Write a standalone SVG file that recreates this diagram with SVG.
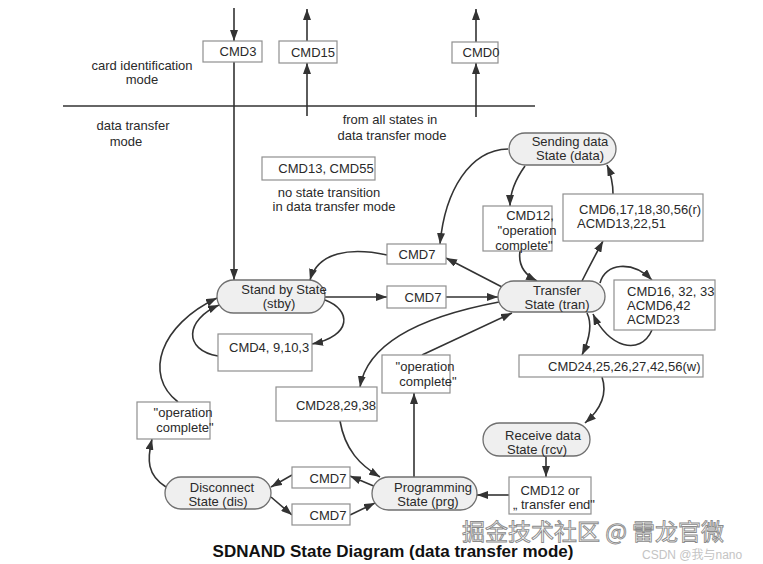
<svg xmlns="http://www.w3.org/2000/svg" width="763" height="564" viewBox="0 0 763 564">
<style>
text{font-family:"Liberation Sans",Arial,sans-serif;font-size:13px;fill:#2a2a2a}
.c{text-anchor:middle}
.st{fill:#efefef;stroke:#6f6f6f;stroke-width:1.3}
.bx{fill:#fff;stroke:#8f8f8f;stroke-width:1.2}
.ln{fill:none;stroke:#333;stroke-width:1.6}
.t{font-weight:bold;font-size:17px;fill:#111}
.wm{font-family:"Noto Sans CJK SC","Liberation Sans",sans-serif;font-size:24px;fill:#fff;stroke:#8a8a8a;stroke-width:0.9}
.wm2{font-family:"Liberation Sans","Noto Sans CJK SC",sans-serif;font-size:12px;fill:#c4c4c4}
</style>
<defs>
<marker id="a" viewBox="0 0 11 8" refX="11" refY="4" markerWidth="11" markerHeight="8" markerUnits="userSpaceOnUse" orient="auto">
<path d="M0,0 L11,4 L0,8 z" fill="#333"/>
</marker>
</defs>
<rect width="763" height="564" fill="#fff"/>

<g id="labels">
<text class="c" x="142" y="70">card identification</text>
<text class="c" x="142" y="84">mode</text>
<text class="c" x="133" y="130">data transfer</text>
<text class="c" x="126" y="146">mode</text>
<text class="c" x="390" y="124">from all states in</text>
<text class="c" x="392" y="140">data transfer mode</text>
<text class="c" x="329" y="197">no state transition</text>
<text class="c" x="334" y="211">in data transfer mode</text>
</g>

<g id="connectors" class="ln" marker-end="url(#a)">
<path d="M63,106 L535,106" marker-end="none"/>
<path d="M234,8 L234,41"/>
<path d="M234,62 L234,280"/>
<path d="M307,116 L307,63"/>
<path d="M307,41 L307,9"/>
<path d="M476,117 L476,63"/>
<path d="M476,42 L476,9"/>
<path d="M387,255 C350,247 318,252 310,280"/>
<path d="M502,287 L446,258"/>
<path d="M325,297 L387,297"/>
<path d="M446,297 L498,297"/>
<path d="M325,300 C352,310 352,336 312,344"/>
<path d="M218,356 C183,350 185,320 219,305"/>
<path d="M178,402 C143,375 160,325 217,298"/>
<path d="M508,149 C470,150 445,190 440,244"/>
<path d="M525,166 C515,180 510,192 510,206"/>
<path d="M520,251 C518,265 525,275 537,281"/>
<path d="M582,281 C590,265 597,252 603,241"/>
<path d="M613,194 C613,180 610,172 607,165"/>
<path d="M600,283 C605,263 632,260 652,280"/>
<path d="M652,330 C640,357 608,347 593,314"/>
<path d="M587,313 C593,325 589,340 582,355"/>
<path d="M602,377 C608,395 600,410 585,423"/>
<path d="M546,456 L546,477"/>
<path d="M509,495 L477,495"/>
<path d="M499,302 C430,315 368,340 360,387"/>
<path d="M422,355 L512,313"/>
<path d="M340,421 C345,450 360,465 380,477"/>
<path d="M414,477 L414,393"/>
<path d="M376,487 L350,476"/>
<path d="M292,475 L271,487"/>
<path d="M271,497 L292,515"/>
<path d="M350,515 L375,503"/>
<path d="M166,487 C147,475 147,460 152,439"/>
</g>

<g id="cmd3"><rect class="bx" x="203" y="41" width="59" height="21"/><text class="c" x="238" y="56">CMD3</text></g>
<g id="cmd15"><rect class="bx" x="279" y="41" width="58" height="22"/><text class="c" x="313" y="57">CMD15</text></g>
<g id="cmd0"><rect class="bx" x="452" y="42" width="46" height="21"/><text class="c" x="481" y="57">CMD0</text></g>
<g id="cmd13"><rect class="bx" x="262" y="157" width="113" height="23"/><text class="c" x="326" y="173">CMD13, CMD55</text></g>

<g id="data"><rect class="st" x="509" y="133" width="107" height="32" rx="16"/><text class="c" x="570" y="146">Sending data</text><text class="c" x="570" y="160">State (data)</text></g>
<g id="tran"><rect class="st" x="498" y="281" width="107" height="31" rx="15.5"/><text class="c" x="557" y="295">Transfer</text><text class="c" x="557" y="309">State (tran)</text></g>
<g id="stby"><rect class="st" x="217" y="280" width="108" height="33" rx="16.5"/><text class="c" x="284" y="294">Stand by State</text><text class="c" x="279" y="308">(stby)</text></g>
<g id="rcv"><rect class="st" x="483" y="423" width="107" height="33" rx="16.5"/><text class="c" x="543" y="440">Receive data</text><text class="c" x="537" y="454">State (rcv)</text></g>
<g id="prg"><rect class="st" x="372" y="477" width="105" height="33" rx="16.5"/><text class="c" x="433" y="492">Programming</text><text class="c" x="428" y="506">State (prg)</text></g>
<g id="dis"><rect class="st" x="165" y="477" width="106" height="32" rx="16"/><text class="c" x="222" y="492">Disconnect</text><text class="c" x="218" y="506">State (dis)</text></g>

<g id="cmd12op"><rect class="bx" x="483" y="206" width="69" height="45"/><text class="c" x="530" y="220">CMD12,</text><text class="c" x="527" y="235">"operation</text><text class="c" x="524" y="250">complete"</text></g>
<g id="cmd6"><rect class="bx" x="563" y="194" width="140" height="47"/><text x="579" y="214">CMD6,17,18,30,56(r)</text><text x="577" y="228">ACMD13,22,51</text></g>
<g id="cmd16"><rect class="bx" x="614" y="280" width="101" height="50"/><text x="627" y="296">CMD16, 32, 33</text><text x="627" y="310">ACMD6,42</text><text x="627" y="324">ACMD23</text></g>
<g id="cmd24"><rect class="bx" x="519" y="355" width="184" height="22"/><text x="548" y="371">CMD24,25,26,27,42,56(w)</text></g>
<g id="cmd12end"><rect class="bx" x="509" y="477" width="82" height="37"/><text class="c" x="550" y="495">CMD12 or</text><text class="c" x="554" y="509">„ transfer end"</text></g>
<g id="cmd7a"><rect class="bx" x="387" y="244" width="59" height="20"/><text class="c" x="417" y="259">CMD7</text></g>
<g id="cmd7b"><rect class="bx" x="387" y="286" width="59" height="22"/><text class="c" x="423" y="302">CMD7</text></g>
<g id="cmd4"><rect class="bx" x="218" y="334" width="94" height="37"/><text x="229" y="352">CMD4, 9,10,3</text></g>
<g id="opmid"><rect class="bx" x="382" y="355" width="68" height="38"/><text class="c" x="425" y="371">"operation</text><text class="c" x="428" y="386">complete"</text></g>
<g id="cmd28"><rect class="bx" x="276" y="387" width="101" height="34"/><text class="c" x="336" y="410">CMD28,29,38</text></g>
<g id="opleft"><rect class="bx" x="137" y="402" width="73" height="37"/><text class="c" x="183" y="417">"operation</text><text class="c" x="185" y="432">complete"</text></g>
<g id="cmd7c"><rect class="bx" x="292" y="467" width="58" height="21"/><text class="c" x="328" y="483">CMD7</text></g>
<g id="cmd7d"><rect class="bx" x="292" y="504" width="58" height="21"/><text class="c" x="328" y="520">CMD7</text></g>

<text class="t c" x="393" y="557">SDNAND State Diagram (data transfer mode)</text>
<text class="wm" x="462" y="540" style="font-size:23px">掘金技术社区 @ 雷龙官微</text>
<text class="wm2" x="642" y="559">CSDN @我与nano</text>
</svg>
